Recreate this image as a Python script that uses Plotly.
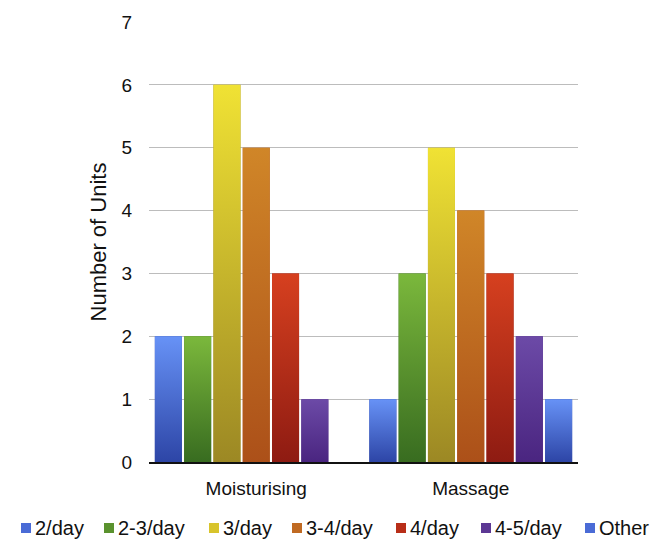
import plotly.graph_objects as go

# ---- data -------------------------------------------------------------
categories = ["Moisturising", "Massage"]
series_names = ["2/day", "2-3/day", "3/day", "3-4/day", "4/day", "4-5/day", "Other"]
moisturising = [2, 2, 6, 5, 3, 1, 0]
massage = [1, 3, 5, 4, 3, 2, 1]
y_ticks = [0, 1, 2, 3, 4, 5, 6, 7]

# ---- styling ----------------------------------------------------------
# (top colour, bottom colour) of each series' vertical gradient
gradients = [
    ("#6792f6", "#2d45a6"),
    ("#7bb83c", "#386c20"),
    ("#f0e234", "#9c8824"),
    ("#d08628", "#ac5019"),
    ("#d6401f", "#8e1b12"),
    ("#6c4aa7", "#4a2580"),
    ("#6792f6", "#2d45a6"),
]
legend_keys = ["#4a6bd6", "#5a922e", "#d8c42c", "#c06a22", "#b82e18", "#5c3894", "#4a6bd6"]
FONT = "Liberation Sans, Arial, sans-serif"

values = [moisturising, massage]
n_series = len(series_names)
group_width = 0.956
slot = group_width / n_series
bar_width = 0.126

fig = go.Figure()

for i, name in enumerate(series_names):
    offset = -group_width / 2 + i * slot + (slot - bar_width) / 2
    top, bottom = gradients[i]
    ys = [values[c][i] for c in range(len(categories))]
    # base bars
    fig.add_trace(go.Bar(
        x=list(range(len(categories))), y=ys, name=name,
        offset=offset, width=bar_width,
        marker=dict(color=bottom, line=dict(width=0)),
        showlegend=False, hoverinfo="skip",
    ))
    # gradient overlay drawn on the same footprint as each bar
    for c, v in enumerate(ys):
        if v <= 0:
            continue
        x0 = c + offset
        x1 = x0 + bar_width
        fig.add_trace(go.Scatter(
            x=[x0, x1, x1, x0, x0], y=[0, 0, v, v, 0],
            mode="lines", line=dict(width=0), fill="toself",
            fillgradient=dict(type="vertical", start=0, stop=v,
                              colorscale=[[0, bottom], [1, top]]),
            showlegend=False, hoverinfo="skip",
        ))

# ---- hand-built legend row under the plot ---------------------------------
PLOT_L, PLOT_R, PLOT_T, PLOT_B = 149, 578, 22, 462
W, H = 656, 541
key_left_px = [21, 104, 209, 292, 396, 481, 585]
key_y_px = 528


def px_to_paper_x(px):
    return (px - PLOT_L) / (PLOT_R - PLOT_L)


def py_to_paper_y(py):
    return (PLOT_B - py) / (PLOT_B - PLOT_T)


for i, name in enumerate(series_names):
    kx = key_left_px[i]
    fig.add_shape(
        type="rect", xref="paper", yref="paper",
        x0=px_to_paper_x(kx), x1=px_to_paper_x(kx + 10),
        y0=py_to_paper_y(key_y_px + 5), y1=py_to_paper_y(key_y_px - 5),
        fillcolor=legend_keys[i], line=dict(width=0),
    )
    fig.add_annotation(
        xref="paper", yref="paper",
        x=px_to_paper_x(kx + 12), y=py_to_paper_y(key_y_px),
        xanchor="left", yanchor="middle", showarrow=False,
        text=name, font=dict(family=FONT, size=20, color="#111111"),
    )

fig.update_layout(
    width=W, height=H,
    margin=dict(l=PLOT_L, r=W - PLOT_R, t=PLOT_T, b=H - PLOT_B),
    paper_bgcolor="white", plot_bgcolor="white",
    barmode="overlay",
    showlegend=False,
    font=dict(family=FONT, color="#111111"),
    xaxis=dict(
        range=[-0.5, 1.5], tickmode="array",
        tickvals=list(range(len(categories))), ticktext=categories,
        tickfont=dict(size=19, family=FONT, color="#111111"),
        showgrid=False, zeroline=False,
        showline=True, linecolor="#111111", linewidth=2,
        ticks="", ticklabelstandoff=8,
    ),
    yaxis=dict(
        range=[0, 7], tickmode="array", tickvals=y_ticks,
        tickfont=dict(size=19, family=FONT, color="#111111"),
        showgrid=True, gridcolor="#bcbcbc", gridwidth=1,
        zeroline=False, showline=False, ticks="",
        ticklabelstandoff=16,
        title=dict(text="Number of Units", standoff=8,
                   font=dict(size=22, family=FONT, color="#111111")),
    ),
)

fig.write_html("out.html")
